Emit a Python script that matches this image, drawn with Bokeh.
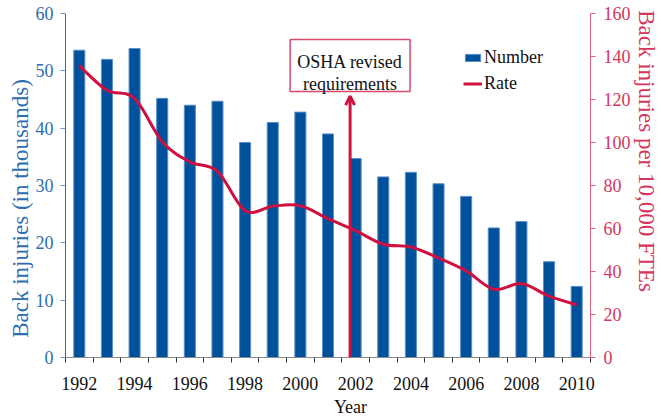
from bokeh.plotting import figure
from bokeh.models import (Range1d, LinearAxis, FixedTicker, Legend, LegendItem,
                          BoxAnnotation, Label, Arrow, OpenHead, ColumnDataSource)
from bokeh.embed import file_html
from bokeh.resources import INLINE

# ---- data ----
years = list(range(1992, 2011))
number_thousands = [53.6, 52.0, 53.9, 45.2, 44.0, 44.7, 37.5, 41.0, 42.8, 39.0,
                    34.7, 31.5, 32.3, 30.3, 28.1, 22.6, 23.7, 16.7, 12.4]
rate_per_10k = [135.7, 124.3, 120.5, 100.4, 91.0, 86.6, 68.3, 70.4, 70.6, 64.6,
                59.0, 52.7, 51.4, 46.3, 40.3, 31.7, 34.4, 28.5, 24.5]
x_tick_labels = [1992, 1994, 1996, 1998, 2000, 2002, 2004, 2006, 2008, 2010]
left_ticks = [0, 10, 20, 30, 40, 50, 60]
right_ticks = [0, 20, 40, 60, 80, 100, 120, 140, 160]
osha_year = 2001.8
osha_text = ["OSHA revised", "requirements"]

BLUE = "#00519b"
BLUE_AX = "#2d6db0"
RED = "#d0103f"
RED_AX = "#d6345a"
FONT = "Liberation Serif"
NB = "\u00a0"

# frame: page x 65..590, page y 13..357
p = figure(width=661, height=419, x_range=Range1d(1991.5, 2010.5),
           y_range=Range1d(0, 60), output_backend="svg", toolbar_location=None,
           min_border_left=65, min_border_right=71, min_border_top=13,
           min_border_bottom=62)
p.extra_y_ranges = {"rate": Range1d(0, 160)}
p.outline_line_color = None
p.xgrid.visible = False
p.ygrid.visible = False
p.background_fill_color = "white"
p.border_fill_color = "white"

# bars
src = ColumnDataSource(dict(x=years, n=number_thousands))
bars = p.vbar(x="x", top="n", width=0.4, source=src, fill_color=BLUE,
              line_color="#5a8fc8", line_width=1)

# smooth rate line (Catmull-Rom through the data points)
xs0, ys0, xs1, ys1, cx0, cy0, cx1, cy1 = [], [], [], [], [], [], [], []
n = len(years)
for i in range(n - 1):
    pm = i - 1 if i > 0 else i
    pp = i + 2 if i + 2 < n else i + 1
    xs0.append(years[i]); ys0.append(rate_per_10k[i])
    xs1.append(years[i + 1]); ys1.append(rate_per_10k[i + 1])
    cx0.append(years[i] + (years[i + 1] - years[pm]) / 6.0)
    cy0.append(rate_per_10k[i] + (rate_per_10k[i + 1] - rate_per_10k[pm]) / 6.0)
    cx1.append(years[i + 1] - (years[pp] - years[i]) / 6.0)
    cy1.append(rate_per_10k[i + 1] - (rate_per_10k[pp] - rate_per_10k[i]) / 6.0)
p.bezier(x0=xs0, y0=ys0, x1=xs1, y1=ys1, cx0=cx0, cy0=cy0, cx1=cx1, cy1=cy1,
         line_color=RED, line_width=3, y_range_name="rate")
# single-point line: draws nothing itself, only serves the legend entry
rate_legend = p.line(x=years[:1], y=rate_per_10k[:1], line_color=RED,
                     line_width=3, y_range_name="rate")

# x axis
xa = p.xaxis[0]
xa.ticker = FixedTicker(ticks=x_tick_labels,
                        minor_ticks=[y - 0.5 for y in years] + [years[-1] + 0.5])
xa.major_tick_out = 0
xa.major_tick_in = 0
xa.minor_tick_out = 5
xa.minor_tick_in = 0
xa.minor_tick_line_color = "#333333"
xa.axis_line_color = "#8a8a8a"
xa.major_label_text_font = FONT
xa.major_label_text_font_size = "18px"
xa.major_label_text_color = "#111111"
xa.major_label_standoff = 14
xa.axis_label = NB * 10 + "Year"
xa.axis_label_text_font = FONT
xa.axis_label_text_font_size = "18px"
xa.axis_label_text_font_style = "normal"
xa.axis_label_text_color = "#111111"
xa.axis_label_standoff = 4

# left axis
ya = p.yaxis[0]
ya.ticker = FixedTicker(ticks=left_ticks)
ya.major_tick_out = 5
ya.major_tick_in = 0
ya.minor_tick_out = 0
ya.minor_tick_in = 0
ya.axis_line_color = BLUE_AX
ya.major_tick_line_color = "#6a9ad0"
ya.major_label_text_font = FONT
ya.major_label_text_font_size = "18px"
ya.major_label_text_color = BLUE_AX
ya.major_label_standoff = 7
ya.axis_label = "Back injuries (in thousands)" + NB * 8
ya.axis_label_text_font = FONT
ya.axis_label_text_font_size = "23px"
ya.axis_label_text_font_style = "normal"
ya.axis_label_text_color = BLUE_AX
ya.axis_label_standoff = 0

# right axis
ra = LinearAxis(y_range_name="rate", ticker=FixedTicker(ticks=right_ticks))
ra.major_tick_out = 5
ra.major_tick_in = 0
ra.minor_tick_out = 0
ra.minor_tick_in = 0
ra.axis_line_color = "#e0607e"
ra.major_tick_line_color = "#e0607e"
ra.major_label_text_font = FONT
ra.major_label_text_font_size = "18px"
ra.major_label_text_color = RED_AX
ra.major_label_standoff = 8
ra.axis_label = "Back injuries per 10,000 FTEs" + NB * 12
ra.axis_label_text_font = FONT
ra.axis_label_text_font_size = "23px"
ra.axis_label_text_font_style = "normal"
ra.axis_label_text_color = RED_AX
ra.axis_label_standoff = 0
p.add_layout(ra, "right")

# annotation box + arrow
box = BoxAnnotation(left=1999.63, right=2003.97, top=55.45, bottom=46.4,
                    fill_color="white", fill_alpha=1.0,
                    line_color="#d8486a", line_width=1.5, line_alpha=1.0)
p.add_layout(box)
p.add_layout(Arrow(end=OpenHead(size=9, line_color=RED, line_width=3),
                   x_start=osha_year, y_start=0, x_end=osha_year, y_end=45.6,
                   line_color=RED, line_width=3))
for txt, ys in zip(osha_text, [296, 273.5]):
    p.add_layout(Label(x=(1999.63 + 2003.97) / 2, y=ys, y_units="screen", text=txt,
                       text_align="center", text_baseline="alphabetic",
                       text_font=FONT, text_font_size="18px", text_color="#111111"))

legend = Legend(items=[LegendItem(label="Number", renderers=[bars]),
                       LegendItem(label="Rate", renderers=[rate_legend])],
                location=(398, 263), orientation="vertical")
legend.border_line_alpha = 0
legend.background_fill_alpha = 0
legend.padding = 0
legend.margin = 0
legend.spacing = 5
legend.glyph_width = 19
legend.glyph_height = 9
legend.label_height = 20
legend.label_standoff = 2
legend.label_text_font = FONT
legend.label_text_font_size = "18px"
legend.label_text_color = "#111111"
p.add_layout(legend)

open("out.html", "w").write(file_html(p, INLINE))
